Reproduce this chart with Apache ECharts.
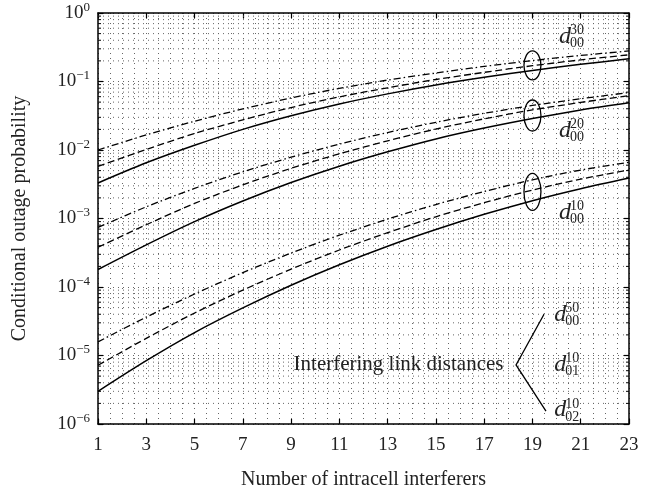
<!DOCTYPE html>
<html><head><meta charset="utf-8">
<script src="https://cdn.jsdelivr.net/npm/echarts@6/dist/echarts.min.js"></script>
<style>html,body{margin:0;padding:0;background:#fff}#c{width:654px;height:495px}</style>
</head><body><div id="c"></div>
<script>
// x positions (number of intracell interferers)
const xs = [1,3,5,7,9,11,13,15,17,19,21,23];
// group d00^10
const g10Solid   = [3.0e-6, 8.4e-6, 2.16e-5, 4.95e-5, 1.06e-4, 2.11e-4, 3.94e-4, 6.9e-4, 1.15e-3, 1.82e-3, 2.72e-3, 3.9e-3];
const g10Dashed  = [7.2e-6, 1.78e-5, 4.17e-5, 9.0e-5, 1.82e-4, 3.47e-4, 6.2e-4, 1.06e-3, 1.7e-3, 2.6e-3, 3.76e-3, 5.1e-3];
const g10DashDot = [1.58e-5, 3.63e-5, 7.9e-5, 1.62e-4, 3.13e-4, 5.7e-4, 9.8e-4, 1.6e-3, 2.48e-3, 3.67e-3, 5.1e-3, 6.6e-3];
// group d00^20
const g20Solid   = [1.8e-4, 4.12e-4, 9.0e-4, 1.8e-3, 3.35e-3, 5.8e-3, 9.4e-3, 1.45e-2, 2.09e-2, 2.88e-2, 3.85e-2, 4.9e-2];
const g20Dashed  = [3.8e-4, 8.1e-4, 1.66e-3, 3.1e-3, 5.4e-3, 8.8e-3, 1.36e-2, 2.02e-2, 2.85e-2, 3.85e-2, 4.95e-2, 6.2e-2];
const g20DashDot = [7.4e-4, 1.48e-3, 2.75e-3, 4.8e-3, 7.85e-3, 1.22e-2, 1.8e-2, 2.54e-2, 3.43e-2, 4.47e-2, 5.6e-2, 6.9e-2];
// group d00^30
const g30Solid   = [3.3e-3, 6.5e-3, 1.17e-2, 2.0e-2, 3.16e-2, 4.7e-2, 6.6e-2, 8.9e-2, 0.115, 0.145, 0.178, 0.214];
const g30Dashed  = [5.75e-3, 1.02e-2, 1.74e-2, 2.75e-2, 4.17e-2, 5.96e-2, 8.1e-2, 0.107, 0.136, 0.17, 0.207, 0.245];
const g30DashDot = [1.0e-2, 1.66e-2, 2.63e-2, 3.98e-2, 5.75e-2, 7.94e-2, 0.105, 0.133, 0.166, 0.202, 0.24, 0.279];
// minor log grid values
const minorVals = [];
for (let e = -6; e < 0; e++) for (let m = 2; m <= 9; m++) minorVals.push(m * Math.pow(10, e));
// annotations (data coordinates)
const ellipses = [[19, 0.172, 29], [19, 0.0319, 31], [19, 2.45e-3, 37]];
const groupLabels = [[20.1, 0.45, '30', '00'], [20.1, 0.0192, '20', '00'], [20.1, 1.22e-3, '10', '00']];
const legendLabels = [[19.9, 4.0e-5, '50', '00'], [19.9, 7.4e-6, '10', '01'], [19.9, 1.6e-6, '10', '02']];
const braceTop = [19.48, 4.0e-5], braceMid = [18.32, 7.3e-6], braceBot = [19.56, 1.54e-6];
const legendTextPos = [17.8, 7.4e-6];

const FONT = "'Liberation Serif','DejaVu Serif',serif";
const chart = echarts.init(document.getElementById('c'), null, {renderer: 'canvas'});
const dotted = {color: '#666', width: 1, type: [1, 4]};
function mk(d){ return xs.map((x,i)=>[x,d[i]]); }
function line(name, d, type, w){
  return {name, type:'line', data: mk(d), smooth: 0.3, showSymbol:false, symbol:'none',
    lineStyle:{color:'#000', width:w||1.3, type:type}, z:5, animation:false};
}
const dash = [7, 3.5], dashDot = [7, 3, 1.5, 3];
const expStr = v => { const e = Math.round(Math.log10(v)); return e === 0 ? '0' : '\u2212' + (-e); };
const option = {
  animation: false,
  grid: {left: 98, right: 25, top: 13, bottom: 66},
  xAxis: [{
    type:'value', min:1, max:23, interval:2,
    name:'Number of intracell interferers', nameLocation:'middle', nameGap:46,
    nameTextStyle:{fontFamily:FONT, fontSize:20, color:'#222'},
    axisLine:{lineStyle:{color:'#000', width:1.5}},
    axisTick:{inside:true, length:5, lineStyle:{color:'#000', width:1.2}},
    axisLabel:{fontFamily:FONT, fontSize:19, color:'#222', margin:12},
    splitLine:{show:true, lineStyle:dotted},
    minorTick:{show:false, splitNumber:4},
    minorSplitLine:{show:true, lineStyle:dotted}
  },{
    type:'value', min:1, max:23, interval:2, position:'top',
    axisLine:{lineStyle:{color:'#000', width:1.5}},
    axisTick:{inside:true, length:5, lineStyle:{color:'#000', width:1.2}},
    axisLabel:{show:false}, splitLine:{show:false}
  }],
  yAxis: [{
    type:'log', logBase:10, min:1e-6, max:1, splitNumber:6,
    name:'Conditional outage probability', nameLocation:'middle', nameGap:68,
    nameTextStyle:{fontFamily:FONT, fontSize:20, color:'#222'},
    axisLine:{lineStyle:{color:'#000', width:1.5}},
    axisTick:{inside:true, length:5, lineStyle:{color:'#000', width:1.2}},
    axisLabel:{margin:8, formatter: v => '{b|10}{s|' + expStr(v) + '}',
      rich:{b:{fontFamily:FONT, fontSize:19, color:'#222', lineHeight:24},
            s:{fontFamily:FONT, fontSize:13, color:'#222', verticalAlign:'top', lineHeight:12}}},
    splitLine:{show:true, lineStyle:dotted}
  },{
    type:'log', logBase:10, min:1e-6, max:1, splitNumber:6, position:'right',
    axisLine:{lineStyle:{color:'#000', width:1.5}},
    axisTick:{inside:true, length:5, lineStyle:{color:'#000', width:1.2}},
    axisLabel:{show:false}, splitLine:{show:false}
  }],
  series: [
    {type:'custom', silent:true, z:1, data: minorVals.map(v=>[1,v]), animation:false,
      renderItem:(params, api)=>{
        const v = api.value(1);
        const p1 = api.coord([1, v]), p2 = api.coord([23, v]);
        return {type:'group', children:[
          {type:'line', shape:{x1:p1[0], y1:p1[1], x2:p2[0], y2:p2[1]}, style:{stroke:'#666', lineWidth:1, lineDash:[1,4]}},
          {type:'line', shape:{x1:p1[0], y1:p1[1], x2:p1[0]+3, y2:p1[1]}, style:{stroke:'#000', lineWidth:1}},
          {type:'line', shape:{x1:p2[0]-3, y1:p2[1], x2:p2[0], y2:p2[1]}, style:{stroke:'#000', lineWidth:1}}
        ]};
      }},
    line('d00^10, d02^10', g10DashDot, dashDot),
    line('d00^10, d01^10', g10Dashed, dash),
    line('d00^10, d00^50', g10Solid, 'solid', 1.5),
    line('d00^20, d02^10', g20DashDot, dashDot),
    line('d00^20, d01^10', g20Dashed, dash),
    line('d00^20, d00^50', g20Solid, 'solid', 1.5),
    line('d00^30, d02^10', g30DashDot, dashDot),
    line('d00^30, d01^10', g30Dashed, dash),
    line('d00^30, d00^50', g30Solid, 'solid', 1.5)
  ]
};
chart.setOption(option);

function px(p){ return chart.convertToPixel({xAxisIndex:0, yAxisIndex:0}, p); }
function dLabel(pos, sup, sub){
  const p = px([pos[0], pos[1]]);
  return {type:'group', x:p[0], y:p[1], z:20, children:[
    {type:'text', x:0, y:0, style:{text:'d', fontFamily:FONT, fontStyle:'italic', fontSize:24, fill:'#222', align:'left', verticalAlign:'middle'}},
    {type:'text', x:11, y:-6, style:{text:sup, fontFamily:FONT, fontSize:14, fill:'#222', align:'left', verticalAlign:'middle'}},
    {type:'text', x:11, y:7, style:{text:sub, fontFamily:FONT, fontSize:14, fill:'#222', align:'left', verticalAlign:'middle'}}
  ]};
}
const graphics = [];
ellipses.forEach(e=>{
  const c = px([e[0], e[1]]);
  graphics.push({type:'ellipse', z:20, shape:{cx:c[0], cy:c[1], rx:8.5, ry:e[2]/2}, style:{fill:'none', stroke:'#000', lineWidth:1.3}});
});
groupLabels.forEach(g=>graphics.push(dLabel(g, g[2], g[3])));
legendLabels.forEach(g=>graphics.push(dLabel(g, g[2], g[3])));
const bt = px(braceTop), bm = px(braceMid), bb = px(braceBot);
graphics.push({type:'polyline', z:20, shape:{points:[bt, bm, bb]}, style:{stroke:'#000', lineWidth:1.3, fill:'none'}});
const lt = px(legendTextPos);
graphics.push({type:'text', z:20, x:lt[0], y:lt[1], style:{text:'Interfering link distances', fontFamily:FONT, fontSize:21, fill:'#222', align:'right', verticalAlign:'middle'}});
chart.setOption({graphic: graphics});
</script></body></html>
